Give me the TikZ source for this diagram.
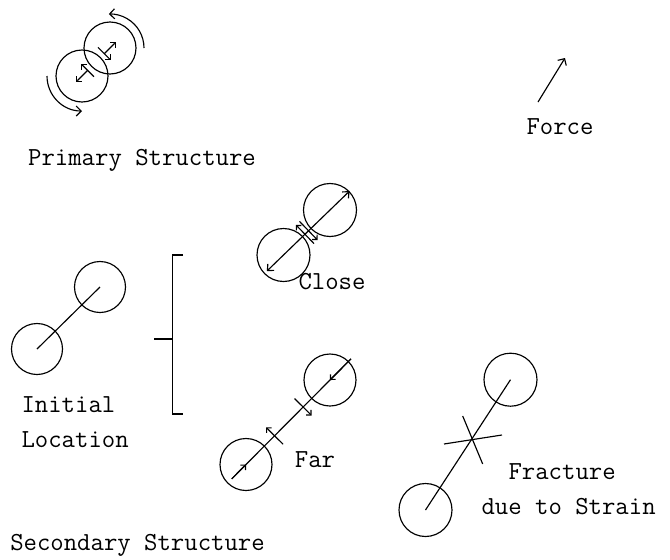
\documentclass[tikz,border=0pt]{standalone}
\usepackage{fontspec}
\usetikzlibrary{arrows.meta,calc}
\begin{document}
\begin{tikzpicture}[x=1pt,y=1pt,
  line width=1.15pt,
  ball/.style={circle,draw,inner sep=0pt,minimum size=52pt},
  lbl/.style={font=\ttfamily\fontsize{26}{35}\selectfont,inner sep=0pt},
  tipL/.style={-{Straight Barb[length=5pt,width=10pt]}},
  tipLL/.style={{Straight Barb[length=5pt,width=9pt]}-{Straight Barb[length=5pt,width=9pt]}},
  tipS/.style={-{Straight Barb[length=3.5pt,width=7pt]}}]
\useasboundingbox (0,0) rectangle (670,-560);

% ---------- Primary structure ----------
\node[ball] (p1) at (82,-76) {};
\node[ball] (p2) at (110,-48) {};
\coordinate (b1) at ($(p1)!8pt!(p2)$);
\coordinate (b2) at ($(p2)!8pt!(p1)$);
\draw[tipS] ($(b1)!9pt!-90:(p2)$) -- ($(b1)!9pt!90:(p2)$);
\draw[tipS] (b1) -- ($(b1)!16pt!(p1)$);
\draw[tipS] ($(b2)!9pt!90:(p2)$) -- ($(b2)!9pt!-90:(p2)$);
\draw[tipS] (b2) -- ($(b2)!16pt!(p2)$);
\draw[tipL] ([shift={(180:35)}]p1.center) arc[start angle=180,end angle=270,radius=35];
\draw[tipL] ([shift={(0:34)}]p2.center) arc[start angle=0,end angle=92,radius=34];
\node[lbl] (tprim) at (142,-160) {Primary Structure};

% ---------- Force ----------
\coordinate (fa) at (538,-102);
\coordinate (fb) at (565,-58);
\draw[tipL] (fa) -- (fb);
\node[lbl] (tforce) at (560,-127) {Force};

% ---------- Initial location ----------
\node[ball,minimum size=51pt] (i1) at (37,-349) {};
\node[ball,minimum size=51pt] (i2) at (100,-287) {};
\draw (i1.center) -- (i2.center);
\node[lbl,align=left,anchor=west] (tinit) at (21,-422) {Initial\\Location};

% ---------- Bracket ----------
\coordinate (bt) at (183,-255);
\coordinate (bb) at (183,-414);
\coordinate (bm) at (154,-339);
\draw (bt) -- (172.7,-255) -- (172.7,-414) -- (bb);
\draw (bm) -- (172.7,-339);

% ---------- Close ----------
\node[ball,minimum size=53pt] (c1) at (283.5,-255) {};
\node[ball,minimum size=53pt] (c2) at (330,-210) {};
\draw[tipLL] ($(c1)!-0.36!(c2)$) -- ($(c2)!-0.42!(c1)$);
\coordinate (cm) at ($(c1)!0.5!(c2)$);
\coordinate (qa) at ($(cm)!2.5pt!(c1)$);
\coordinate (qb) at ($(cm)!2.5pt!(c2)$);
\draw[tipS] ($(qa)!13pt!-90:(c2)$) -- ($(qa)!13pt!90:(c2)$);
\draw[tipS] ($(qb)!13pt!90:(c2)$) -- ($(qb)!13pt!-90:(c2)$);
\node[lbl] (tclose) at (332,-282) {Close};

% ---------- Far ----------
\node[ball] (f1) at (246,-464.5) {};
\node[ball] (f2) at (330,-380) {};
\draw ($(f1)!-0.17!(f2)$) -- ($(f2)!-0.25!(f1)$);
\draw[tipS] ($(f1)!-0.17!(f2)$) -- (f1.center);
\draw[tipS] ($(f2)!-0.25!(f1)$) -- (f2.center);
\coordinate (pl) at ($(f1)!0.34!(f2)$);
\coordinate (pu) at ($(f1)!0.68!(f2)$);
\draw[tipS] ($(pu)!12pt!90:(f2)$) -- ($(pu)!12pt!-90:(f2)$);
\draw[tipS] ($(pl)!12pt!-90:(f2)$) -- ($(pl)!12pt!90:(f2)$);
\node[lbl] (tfar) at (315,-460) {Far};

% ---------- Fracture ----------
\node[ball,minimum size=53pt] (x1) at (425.5,-510) {};
\node[ball,minimum size=53pt] (x2) at (510.5,-379.7) {};
\draw (x1.center) -- (x2.center);
\coordinate (xc) at (472,-439);
\draw ($(xc)+(-28,-5)$) -- ($(xc)+(30,4)$);
\draw ($(xc)+(-9.3,23)$) -- ($(xc)+(10.7,-25)$);
\node[lbl,align=left,anchor=west] (tfrac) at (481,-489) {\hspace*{27pt}Fracture\\due to Strain};

% ---------- Secondary title ----------
\node[lbl] (tsec) at (137.5,-545) {Secondary Structure};
\end{tikzpicture}
\end{document}
